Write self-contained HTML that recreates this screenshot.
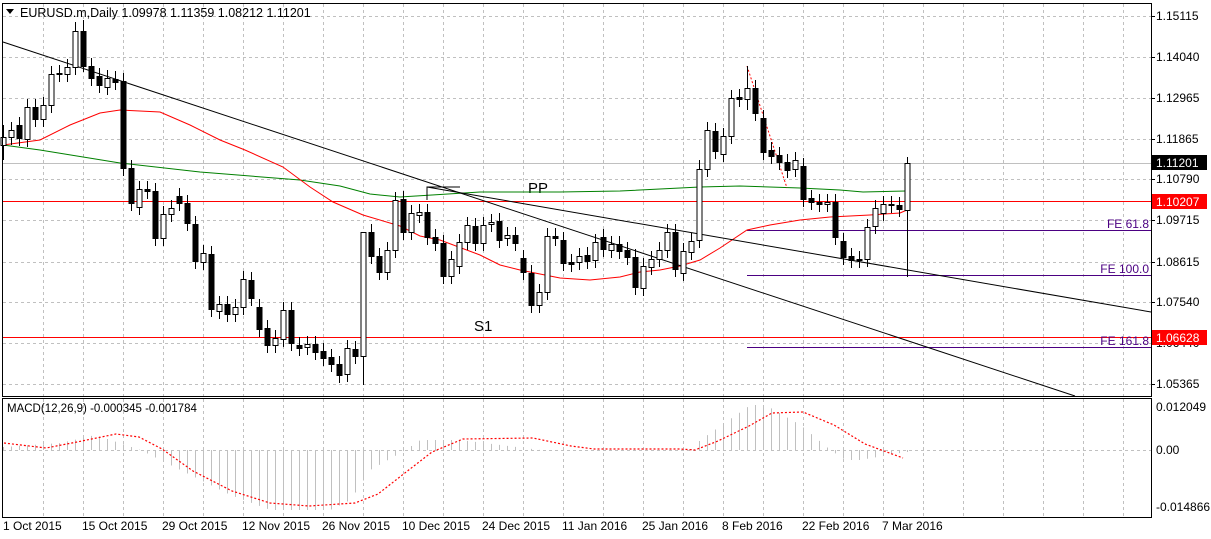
<!DOCTYPE html>
<html><head><meta charset="utf-8"><style>
html,body{margin:0;padding:0;background:#fff;}
svg{display:block;font-family:"Liberation Sans",sans-serif;}
</style></head><body>
<svg id="c" width="1211" height="539" xmlns="http://www.w3.org/2000/svg">
<rect x="0" y="0" width="1211" height="539" fill="#fff"/>
<g id="grid" stroke="#c0c0c0" stroke-dasharray="3,3" stroke-width="1"></g>
<line x1="3" y1="163.5" x2="1151" y2="163.5" stroke="#c0c0c0"/>
<line x1="3" y1="201.5" x2="1151" y2="201.5" stroke="#ff0000"/>
<line x1="3" y1="337.5" x2="1151" y2="337.5" stroke="#ff0000"/>
<line x1="747" y1="230.5" x2="1151" y2="230.5" stroke="#4b0082"/>
<line x1="747" y1="275.5" x2="1151" y2="275.5" stroke="#4b0082"/>
<line x1="747" y1="347.5" x2="1151" y2="347.5" stroke="#4b0082"/>
<text x="1149" y="228" font-size="12" fill="#4b0082" text-anchor="end">FE 61.8</text>
<text x="1149" y="273" font-size="12" fill="#4b0082" text-anchor="end">FE 100.0</text>
<text x="1149" y="345" font-size="12" fill="#4b0082" text-anchor="end">FE 161.8</text>
<text x="528" y="193" font-size="15" fill="#000">PP</text>
<text x="474" y="331" font-size="15" fill="#000">S1</text>
<polyline fill="none" stroke="#008000" stroke-width="1" points="3,145 40,150 120,163 200,172 300,180 340,186 370,194 400,197 480,192 560,192 620,191 700,187 740,186 800,188 840,190 863,192 906,191"/>
<polyline fill="none" stroke="#ff0000" stroke-width="1" points="3,145 40,140 70,125 100,113 120,110 160,112 190,125 220,140 245,150 283,167 310,187 333,202 363,215 400,226 420,236 440,240 480,255 500,265 520,270 540,274 560,278 590,280 620,277 640,272 660,270 680,266 700,260 720,248 747,230 770,225 800,220 830,217 870,215 900,213 907,210"/>
<line x1="3" y1="42" x2="1075" y2="396" stroke="#000"/>
<line x1="427" y1="187" x2="1151" y2="312" stroke="#000"/>
<polyline fill="none" stroke="#000" points="427,200 427,187 460,187"/>
<line x1="747" y1="66" x2="787" y2="188" stroke="#ff0000" stroke-dasharray="2,2"/>
<g id="candles"></g>
<g id="hist" stroke="#c0c0c0"></g>
<polyline id="sig" fill="none" stroke="#ff0000" stroke-width="1.2" stroke-dasharray="2,2" points="4,443 46,448 77,442 116,434 139,437 162,449 193,471 232,491 270,503 309,506 355,503 378,494 401,476 432,452 463,439 533,438 571,446 594,449 679,449 695,450 718,441 749,426 772,413 803,412 834,425 865,444 903,458"/>
<rect x="2.5" y="3.5" width="1149" height="393" fill="none" stroke="#000"/>
<rect x="2.5" y="398.5" width="1149" height="119" fill="none" stroke="#000"/>
<g id="axis" font-size="12" fill="#000"></g>
<rect x="1152" y="155" width="55" height="15" fill="#000"/>
<text x="1156" y="167" font-size="12" fill="#fff">1.11201</text>
<rect x="1152" y="194" width="55" height="15" fill="#ff0000"/>
<text x="1156" y="206" font-size="12" fill="#fff">1.10207</text>
<rect x="1152" y="330" width="55" height="15" fill="#ff0000"/>
<text x="1156" y="342" font-size="12" fill="#fff">1.06628</text>
<polygon points="6,9 14,9 10,14" fill="#000"/>
<text x="20" y="17" font-size="12.5" fill="#000">EURUSD.m,Daily  1.09978 1.11359 1.08212 1.11201</text>
<text x="7" y="412" font-size="11.5" fill="#000">MACD(12,26,9) -0.000345 -0.001784</text>
<text x="1156" y="411" font-size="12">0.012049</text>
<text x="1156" y="454" font-size="12">0.00</text>
<text x="1156" y="511" font-size="12">-0.014866</text>
<g font-size="12" fill="#000">
<text x="3" y="530">1 Oct 2015</text><text x="82" y="530">15 Oct 2015</text><text x="162" y="530">29 Oct 2015</text>
<text x="242" y="530">12 Nov 2015</text><text x="322" y="530">26 Nov 2015</text><text x="402" y="530">10 Dec 2015</text>
<text x="482" y="530">24 Dec 2015</text><text x="562" y="530">11 Jan 2016</text><text x="642" y="530">25 Jan 2016</text>
<text x="722" y="530">8 Feb 2016</text><text x="802" y="530">22 Feb 2016</text><text x="882" y="530">7 Mar 2016</text>
</g>
</svg>
<script>
var NS="http://www.w3.org/2000/svg";
function el(p,t,a){var e=document.createElementNS(NS,t);for(var k in a)e.setAttribute(k,a[k]);p.appendChild(e);return e;}
var g=document.getElementById('grid');
for(var x=43;x<1151;x+=40){el(g,'line',{x1:x+.5,y1:4,x2:x+.5,y2:396});el(g,'line',{x1:x+.5,y1:399,x2:x+.5,y2:517});}
var ys=[16,57,98,139,179,220,262,302,343,384],lb=["1.15115","1.14040","1.12965","1.11865","1.10790","1.09715","1.08615","1.07540","1.06440","1.05365"];
var ax=document.getElementById('axis');
ys.forEach(function(y,i){el(g,'line',{x1:3,y1:y+.5,x2:1151,y2:y+.5});el(ax,'line',{x1:1151,y1:y+.5,x2:1155,y2:y+.5,stroke:'#000'});var t=el(ax,'text',{x:1156,y:y+4});t.textContent=lb[i];});
el(g,'line',{x1:3,y1:450.5,x2:1151,y2:450.5});
var d=[[137,145,1],[130,137,1],[125,138,0],[107,139,1],[107,119,0],[105,119,1],[74,105,1],[73,74,0],[67,74,1],[31,67,1],[31,66,0],[66,78,0],[76,85,0],[78,87,1],[79,82,0],[81,168,0],[168,203,0],[189,207,1],[189,191,0],[191,238,0],[214,238,1],[208,214,1],[196,203,0],[203,223,0],[224,261,0],[253,262,1],[254,309,0],[304,311,1],[304,314,0],[307,314,1],[279,307,1],[280,298,0],[307,329,0],[328,345,0],[338,345,1],[310,339,1],[310,343,0],[345,348,0],[344,347,1],[344,352,0],[351,358,0],[357,364,0],[364,375,0],[348,374,1],[349,356,0],[232,356,1],[232,256,0],[256,272,0],[250,272,1],[200,250,1],[199,232,0],[213,232,1],[212,215,1],[212,237,0],[237,243,0],[243,276,0],[259,276,1],[242,266,1],[225,242,1],[226,243,0],[225,243,1],[222,224,1],[221,240,0],[235,238,1],[235,243,0],[258,272,0],[273,305,0],[292,305,1],[236,292,1],[236,238,0],[240,263,0],[262,264,0],[256,262,1],[255,261,0],[242,260,1],[237,249,0],[244,250,1],[244,251,0],[250,257,0],[257,287,0],[266,288,1],[259,267,1],[250,259,1],[232,250,1],[232,269,0],[251,273,1],[241,252,1],[169,240,1],[130,169,1],[131,151,0],[136,154,1],[98,136,1],[97,99,0],[88,99,1],[88,113,0],[118,152,0],[150,156,0],[155,162,0],[162,170,0],[160,169,1],[166,199,0],[198,202,0],[202,204,0],[202,204,1],[202,237,0],[241,257,0],[256,260,0],[259,260,0],[227,259,1],[208,226,1],[204,213,1],[204,205,0],[205,209,0],[163,210,1]];
var wk={9:[22,75],10:[20,72],45:[232,385],93:[66,110],113:[157,277],87:[160,248],0:[125,160]};
var cg=document.getElementById('candles');
d.forEach(function(c,i){var x=3+8*i;var hi=c[0]-8,lo=c[1]+8;if(wk[i]){hi=wk[i][0];lo=wk[i][1];}
el(cg,'line',{x1:x+.5,y1:hi,x2:x+.5,y2:lo,stroke:'#000'});
var h=Math.max(c[1]-c[0],1);
el(cg,'rect',{x:x-2,y:c[0]+.5,width:5,height:h,fill:c[2]?'#fff':'#000',stroke:'#000'});});
var hp=[[3,447],[60,443],[95,435],[140,450],[200,480],[230,495],[270,510],[330,510],[350,500],[370,470],[405,450],[420,440],[460,440],[500,445],[540,450],[690,450],[700,440],[750,405],[765,405],[800,425],[830,450],[845,460],[860,460],[900,453],[907,452]];
function hv(x){for(var k=0;k<hp.length-1;k++){if(x>=hp[k][0]&&x<=hp[k+1][0]){var t=(x-hp[k][0])/(hp[k+1][0]-hp[k][0]);return hp[k][1]+t*(hp[k+1][1]-hp[k][1]);}}return 450;}
var hg=document.getElementById('hist');
for(var i=0;i<114;i++){var x=3+8*i+.5;el(hg,'line',{x1:x,y1:450,x2:x,y2:hv(3+8*i)});}
</script>
</body></html>
